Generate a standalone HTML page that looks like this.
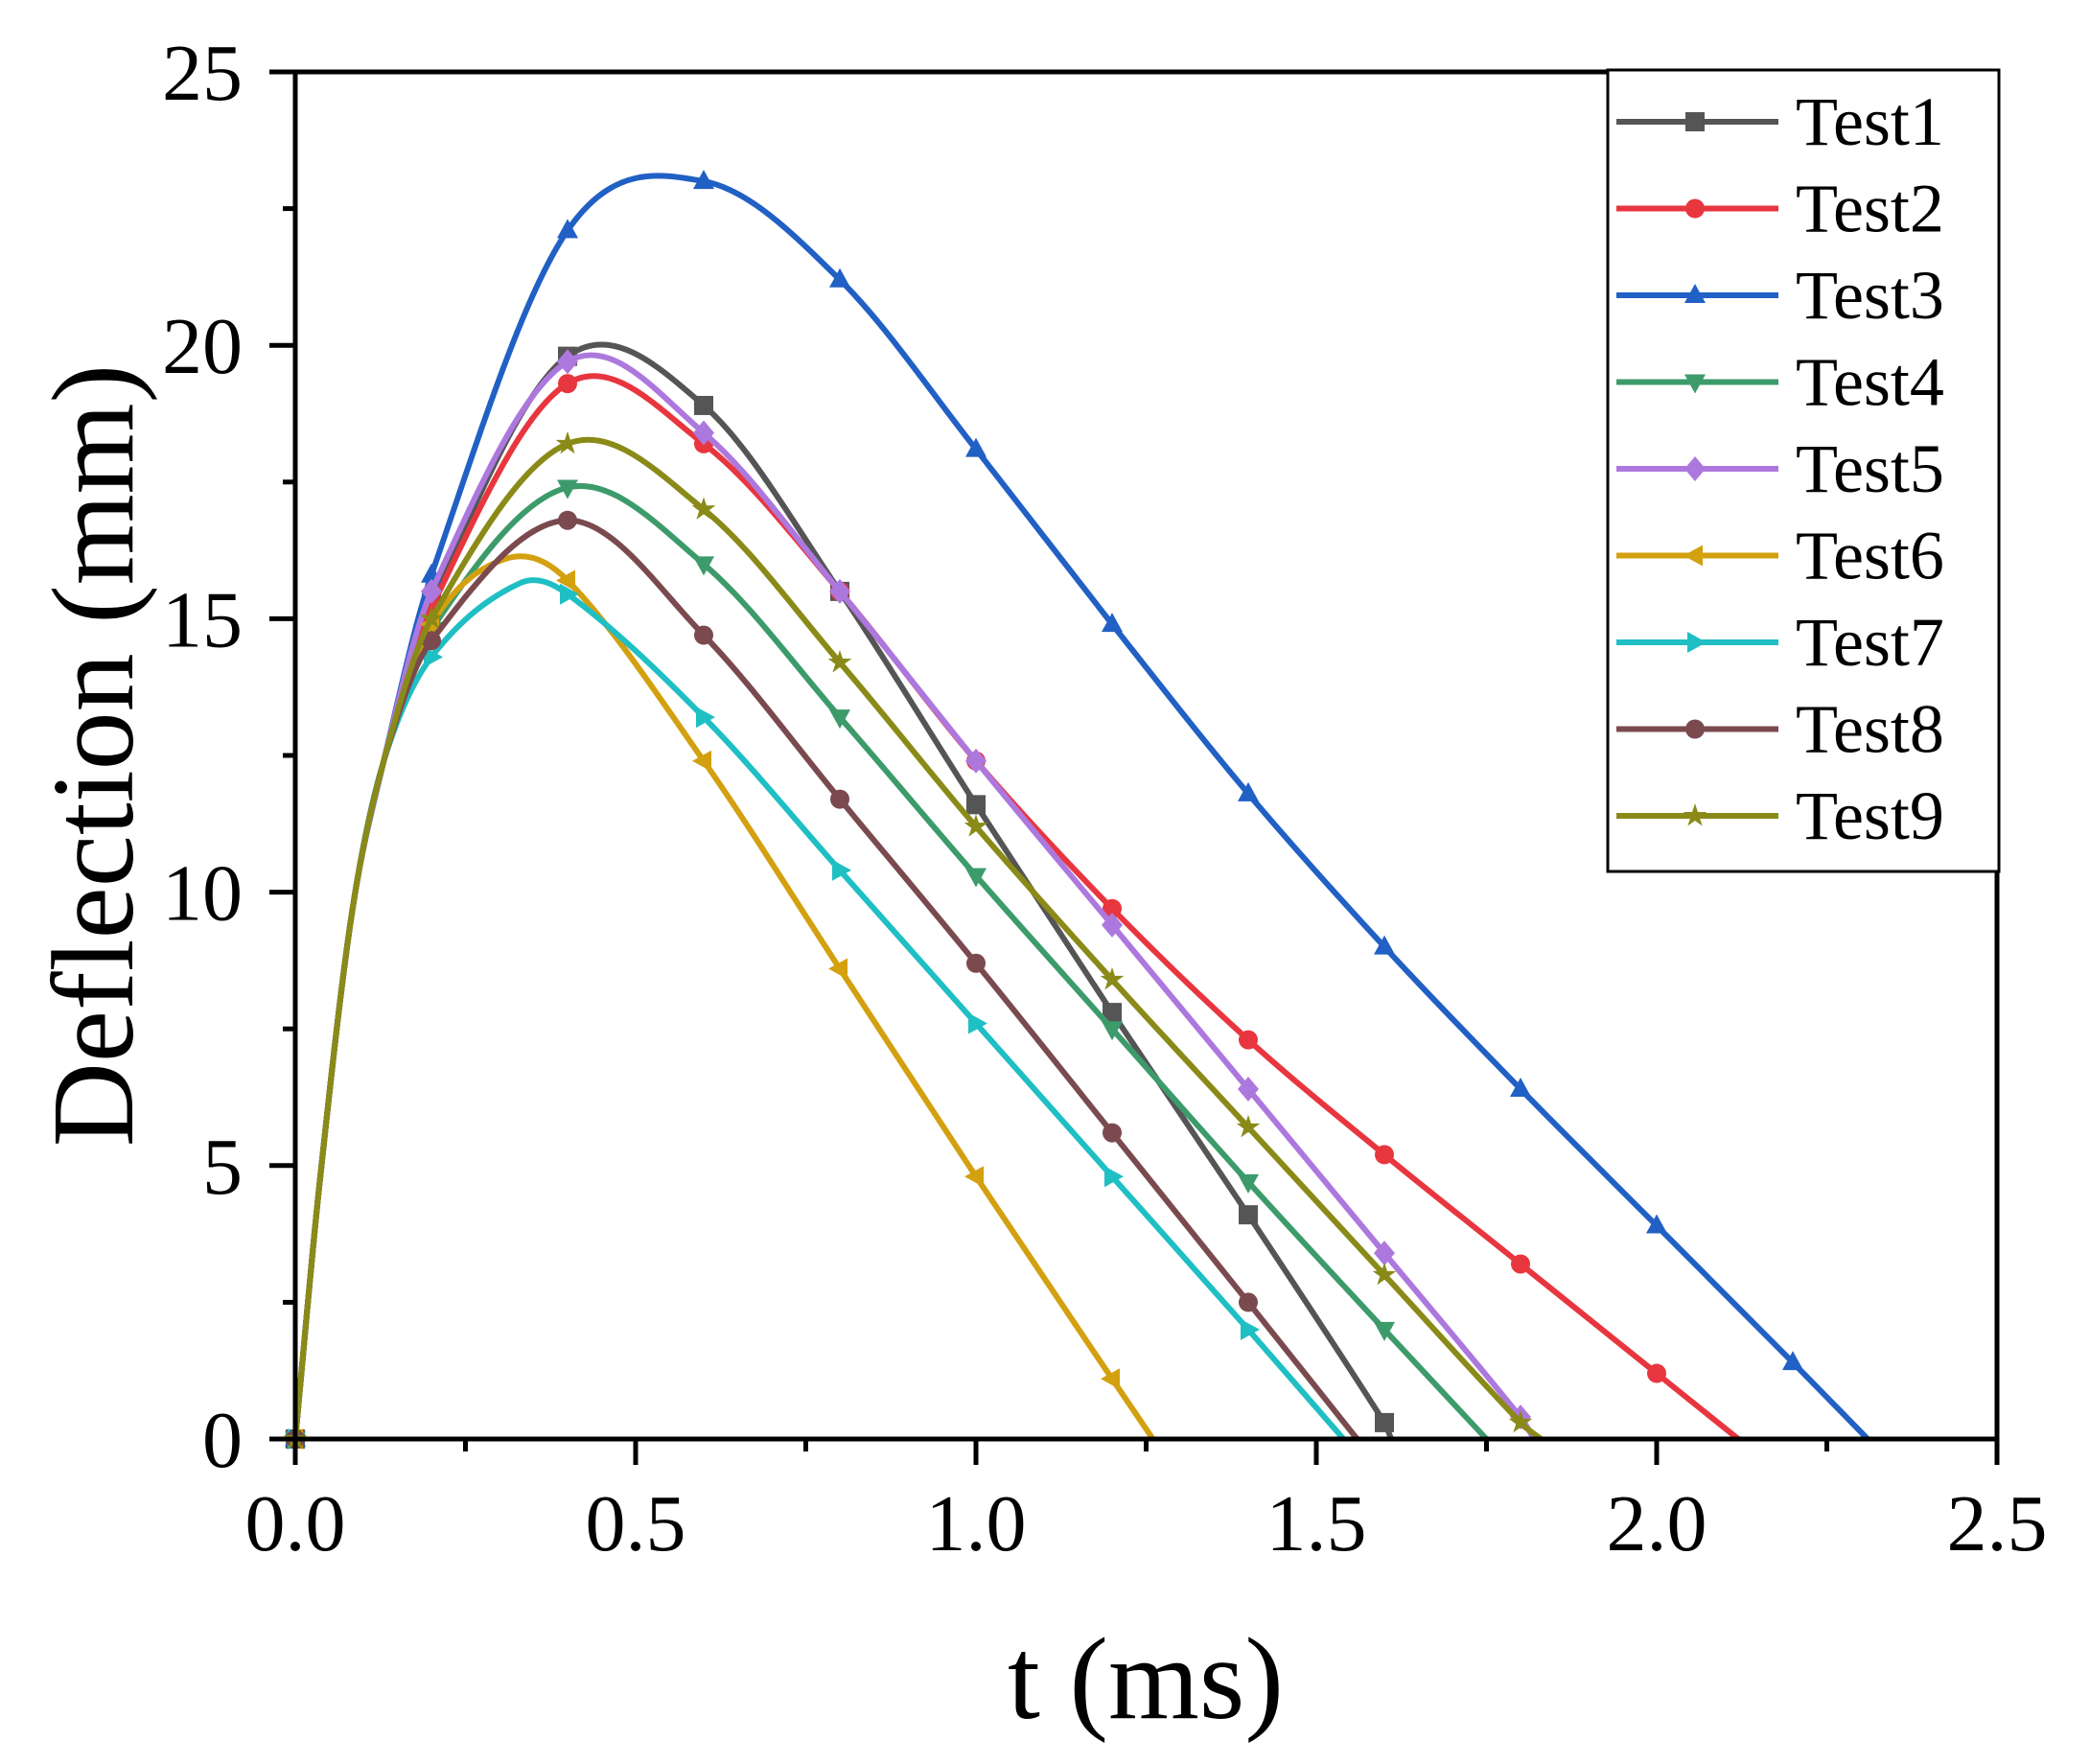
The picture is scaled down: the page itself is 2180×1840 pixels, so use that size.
<!DOCTYPE html>
<html><head><meta charset="utf-8">
<style>
html,body{margin:0;padding:0;background:#fff;}
svg{display:block;}
text{font-family:"Liberation Serif",serif;fill:#000;}
</style></head>
<body>
<svg id="s" width="2180" height="1840" viewBox="0 0 2180 1840" xmlns="http://www.w3.org/2000/svg">
<rect width="2180" height="1840" fill="#fff"/>
<g id="curves"></g>
<g id="axes"></g>
</svg>
<script>
const X0=308,X1=2083,Y0=1501,Y1=75;
const sx=t=>X0+(X1-X0)*t/2.5, sy=v=>Y0-(Y0-Y1)*v/25;
const NS="http://www.w3.org/2000/svg";
function el(tag,attrs,parent,txt){const e=document.createElementNS(NS,tag);for(const k in attrs)e.setAttribute(k,attrs[k]);if(txt!==undefined)e.textContent=txt;parent.appendChild(e);return e;}
const early=[[0,0],[0.035,4.6],[0.083,9.6],[0.13,12.4]];
const S=[
 {n:"Test1",c:"#555555",m:"sq",p:[[0.2,15.3],[0.4,19.8],[0.6,18.9],[0.8,15.5],[1.0,11.6],[1.2,7.8],[1.4,4.1],[1.6,0.3],[1.61,0]]},
 {n:"Test2",c:"#e8363f",m:"ci",p:[[0.2,15.2],[0.4,19.3],[0.6,18.2],[0.8,15.5],[1.0,12.4],[1.2,9.7],[1.4,7.3],[1.6,5.2],[1.8,3.2],[2.0,1.2],[2.12,0]]},
 {n:"Test3",c:"#2160c4",m:"up",p:[[0.2,15.8],[0.4,22.1],[0.6,23.0],[0.8,21.2],[1.0,18.1],[1.2,14.9],[1.4,11.8],[1.6,9.0],[1.8,6.4],[2.0,3.9],[2.2,1.4],[2.31,0]]},
 {n:"Test4",c:"#3d9b6b",m:"dn",p:[[0.2,14.8],[0.4,17.4],[0.6,16.0],[0.8,13.2],[1.0,10.3],[1.2,7.5],[1.4,4.7],[1.6,2.0],[1.75,0]]},
 {n:"Test5",c:"#ad78de",m:"di",p:[[0.2,15.5],[0.4,19.7],[0.6,18.4],[0.8,15.5],[1.0,12.4],[1.2,9.4],[1.4,6.4],[1.6,3.4],[1.8,0.4],[1.82,0]]},
 {n:"Test6",c:"#d3a00f",m:"lf",p:[[0.2,14.9],[0.31,16.1],[0.4,15.7],[0.6,12.4],[0.8,8.6],[1.0,4.8],[1.2,1.1],[1.26,0]]},
 {n:"Test7",c:"#1fbfc4",m:"rt",p:[[0.2,14.3],[0.33,15.65],[0.4,15.45],[0.6,13.2],[0.8,10.4],[1.0,7.6],[1.2,4.8],[1.4,2.0],[1.54,0]]},
 {n:"Test8",c:"#7a4a4f",m:"ci",p:[[0.2,14.6],[0.4,16.8],[0.6,14.7],[0.8,11.7],[1.0,8.7],[1.2,5.6],[1.4,2.5],[1.56,0]]},
 {n:"Test9",c:"#8a8a18",m:"st",p:[[0.2,15.0],[0.4,18.2],[0.6,17.0],[0.8,14.2],[1.0,11.2],[1.2,8.4],[1.4,5.7],[1.6,3.0],[1.8,0.3],[1.83,0]]}
];
function path(pts){
 const n=pts.length,m=[];
 for(let i=0;i<n;i++){
  const a=pts[Math.max(0,i-1)],b=pts[Math.min(n-1,i+1)];
  m.push((b[1]-a[1])/(b[0]-a[0]));
 }
 let d=`M${sx(pts[0][0]).toFixed(1)},${sy(pts[0][1]).toFixed(1)}`;
 for(let i=0;i<n-1;i++){
  const [x1,y1]=pts[i],[x2,y2]=pts[i+1],h=x2-x1;
  const c1x=x1+h/3,c1y=y1+m[i]*h/3,c2x=x2-h/3,c2y=y2-m[i+1]*h/3;
  d+=` C${sx(c1x).toFixed(1)},${sy(c1y).toFixed(1)} ${sx(c2x).toFixed(1)},${sy(c2y).toFixed(1)} ${sx(x2).toFixed(1)},${sy(y2).toFixed(1)}`;
 }
 return d;
}
function marker(g,type,x,y,c,r){
 r=r||10;
 if(type=="sq")el("rect",{x:x-r,y:y-r,width:2*r,height:2*r,fill:c},g);
 else if(type=="ci")el("circle",{cx:x,cy:y,r:r,fill:c},g);
 else if(type=="up")el("polygon",{points:`${x},${y-r*1.2} ${x-r*1.1},${y+r*0.8} ${x+r*1.1},${y+r*0.8}`,fill:c},g);
 else if(type=="dn")el("polygon",{points:`${x},${y+r*1.2} ${x-r*1.1},${y-r*0.8} ${x+r*1.1},${y-r*0.8}`,fill:c},g);
 else if(type=="lf")el("polygon",{points:`${x-r*1.2},${y} ${x+r*0.8},${y-r*1.1} ${x+r*0.8},${y+r*1.1}`,fill:c},g);
 else if(type=="rt")el("polygon",{points:`${x+r*1.2},${y} ${x-r*0.8},${y-r*1.1} ${x-r*0.8},${y+r*1.1}`,fill:c},g);
 else if(type=="di")el("polygon",{points:`${x},${y-r*1.3} ${x+r*1.1},${y} ${x},${y+r*1.3} ${x-r*1.1},${y}`,fill:c},g);
 else if(type=="st"){let pts=[];for(let i=0;i<10;i++){const a=-Math.PI/2+i*Math.PI/5,rr=i%2?r*0.5:r*1.3;pts.push(`${x+rr*Math.cos(a)},${y+rr*Math.sin(a)}`);}el("polygon",{points:pts.join(" "),fill:c},g);}
}
const cg=document.getElementById("curves");
S.forEach(s=>{
 const pts=early.concat(s.p);
 el("path",{d:path(pts),fill:"none",stroke:s.c,"stroke-width":6,"stroke-linejoin":"round"},cg);
 pts.forEach(p=>{const t=Math.round(p[0]*1000)/1000;if(Math.abs(t/0.2-Math.round(t/0.2))<1e-6 && t<2.4)marker(cg,s.m,sx(p[0]),sy(p[1]),s.c);});
});
const ag=document.getElementById("axes");
el("rect",{x:X0,y:Y1,width:X1-X0,height:Y0-Y1,fill:"none",stroke:"#000","stroke-width":5},ag);
for(let i=0;i<=10;i++){const t=i*0.25,x=sx(t);el("line",{x1:x,y1:Y0,x2:x,y2:Y0+(i%2?13:27),stroke:"#000","stroke-width":5},ag);
 if(i%2==0)el("text",{x:x,y:1617,"font-size":84,"text-anchor":"middle"},ag,t.toFixed(1));}
for(let i=0;i<=10;i++){const v=i*2.5,y=sy(v);el("line",{x1:X0,y1:y,x2:X0-(i%2?13:27),y2:y,stroke:"#000","stroke-width":5},ag);
 if(i%2==0)el("text",{x:253,y:y+29,"font-size":84,"text-anchor":"end"},ag,String(v));}
el("text",{x:1195,y:1792,"font-size":122,"text-anchor":"middle"},ag,"t (ms)");
el("text",{x:0,y:0,"font-size":122,"text-anchor":"middle",transform:"translate(138,788) rotate(-90)"},ag,"Deflection (mm)");
el("rect",{x:1677,y:73,width:408,height:836,fill:"#fff",stroke:"#000","stroke-width":3},ag);
S.forEach((s,i)=>{const y=127+i*90.5;
 el("line",{x1:1686,y1:y,x2:1855,y2:y,stroke:s.c,"stroke-width":6},ag);
 marker(ag,s.m,1768,y,s.c,10);
 el("text",{x:1873,y:y+24,"font-size":72},ag,s.n);});
</script>
</body></html>
